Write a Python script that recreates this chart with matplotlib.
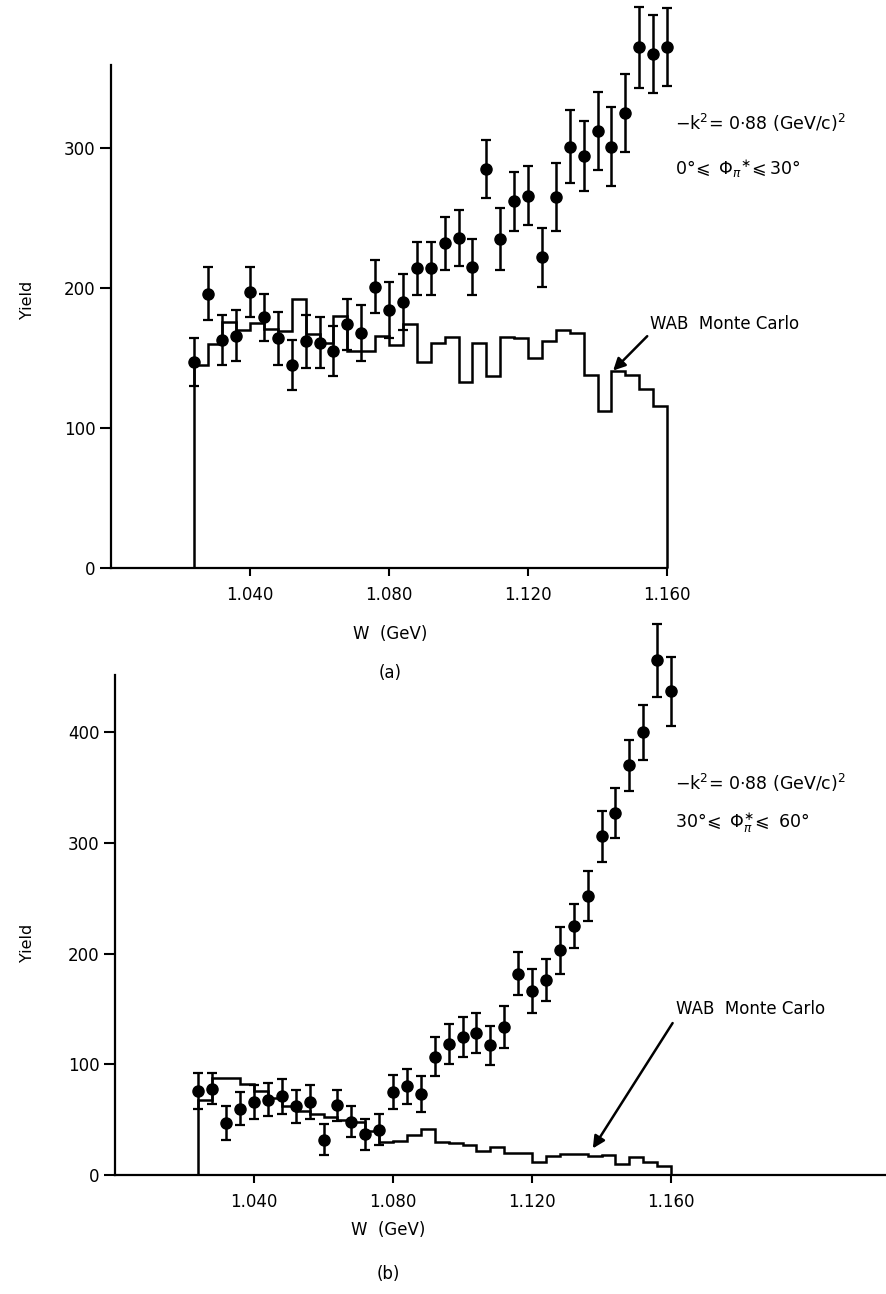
import matplotlib
matplotlib.use("Agg")
import matplotlib.pyplot as plt

plt.rcParams['font.family'] = ['DejaVu Sans']
plt.rcParams['mathtext.fontset'] = 'dejavusans'

# W bin edges (GeV); data points sit on the same grid
W = [1.024, 1.028, 1.032, 1.036, 1.040, 1.044, 1.048, 1.052, 1.056, 1.060,
     1.064, 1.068, 1.072, 1.076, 1.080, 1.084, 1.088, 1.092, 1.096, 1.100,
     1.104, 1.108, 1.112, 1.116, 1.120, 1.124, 1.128, 1.132, 1.136, 1.140,
     1.144, 1.148, 1.152, 1.156, 1.160]

# (a) 0 <= phi <= 30 deg
yield_a = [147, 196, 163, 166, 197, 179, 164, 145, 162, 161,
           155, 174, 168, 201, 184, 190, 214, 214, 232, 236,
           215, 285, 235, 262, 266, 222, 265, 301, 294, 312,
           301, 325, 372, 367, 372]
err_a = [17, 19, 18, 18, 18, 17, 19, 18, 19, 18,
         18, 18, 20, 19, 20, 20, 19, 19, 19, 20,
         20, 21, 22, 21, 21, 21, 24, 26, 25, 28,
         28, 28, 29, 28, 28]
mc_a = [145, 160, 176, 170, 175, 171, 169, 192, 167, 161,
        180, 155, 155, 166, 159, 174, 147, 161, 165, 133,
        161, 137, 165, 164, 150, 162, 170, 168, 138, 112,
        141, 138, 128, 116]

# (b) 30 <= phi <= 60 deg
yield_b = [76, 78, 47, 60, 66, 68, 71, 62, 66, 32,
           63, 48, 37, 41, 75, 80, 73, 107, 118, 125,
           128, 117, 134, 182, 166, 176, 203, 225, 252, 306,
           327, 370, 400, 465, 437]
err_b = [16, 14, 15, 15, 15, 15, 16, 15, 15, 14,
         14, 14, 14, 14, 15, 16, 16, 18, 18, 18,
         18, 18, 19, 19, 20, 19, 21, 20, 23, 23,
         23, 23, 25, 33, 31]
mc_b = [68, 88, 88, 82, 76, 70, 62, 58, 55, 52,
        50, 48, 40, 30, 31, 36, 42, 30, 29, 27,
        22, 25, 20, 20, 12, 17, 19, 19, 17, 18,
        10, 16, 12, 8]

xticks = [1.040, 1.080, 1.120, 1.160]
xticklabels = ['1.040', '1.080', '1.120', '1.160']

FW, FH = 886, 1294
fig = plt.figure(figsize=(FW / 100, FH / 100), dpi=100)

ax1 = fig.add_axes([111 / FW, 1 - 568 / FH, (FW - 111) / FW, 568 / FH])
ax2 = fig.add_axes([115 / FW, 1 - 1175 / FH, (FW - 115) / FW, 545 / FH])

panels = [
    (ax1, yield_a, err_a, mc_a, 405.7, 359, 1.160, [0, 100, 200, 300]),
    (ax2, yield_b, err_b, mc_b, 492.3, 452, 1.2219, [0, 100, 200, 300, 400]),
]

for ax, y, e, mc, ytop, spine_top, xend, yticks in panels:
    xmax = 1.0 + (FW - ax.get_position().x0 * FW) / 3475
    ax.set_xlim(1.0, xmax)
    ax.set_ylim(0, ytop)
    ax.stairs(mc, W, baseline=0, color='black', lw=1.8, clip_on=False)
    ax.errorbar(W, y, yerr=e, fmt='o', color='black', ms=8, capsize=3.5,
                elinewidth=1.8, capthick=1.6, clip_on=False, zorder=3)
    for s in ['top', 'right']:
        ax.spines[s].set_visible(False)
    ax.spines['left'].set_bounds(0, spine_top)
    ax.spines['bottom'].set_bounds(1.0, min(xend, xmax))
    ax.spines['left'].set_linewidth(1.6)
    ax.spines['bottom'].set_linewidth(1.6)
    ax.set_yticks(yticks)
    ax.set_xticks(xticks)
    ax.set_xticklabels(xticklabels)
    ax.tick_params(axis='y', direction='out', length=8, width=1.5, pad=3, labelsize=12)
    ax.tick_params(axis='x', direction='out', length=6, width=1.5, pad=7, labelsize=12)
    ax.patch.set_alpha(0)

# annotations, panel (a)
ax1.annotate('WAB  Monte Carlo', xy=(1.1445, 141), xytext=(1.1551, 174),
             fontsize=12, ha='left', va='center',
             arrowprops=dict(arrowstyle='-|>', color='black', lw=1.8,
                             mutation_scale=18, relpos=(0.0, 0.0), shrinkA=0, shrinkB=0))
ax1.text(1.1623, 318, r'$-$k$^2$= 0$\cdot$88 (GeV/c)$^2$', fontsize=12.5, va='center', ha='left')
ax1.text(1.1623, 285, r'0$\degree\!\leqslant$ $\Phi_{\pi}{}^{\ast}\!\leqslant$30$\degree$',
         fontsize=12.5, va='center', ha='left')

# annotations, panel (b)
ax2.annotate('WAB  Monte Carlo', xy=(1.1375, 24), xytext=(1.1614, 150),
             fontsize=12, ha='left', va='center',
             arrowprops=dict(arrowstyle='-|>', color='black', lw=1.8,
                             mutation_scale=18, relpos=(0.0, 0.0), shrinkA=2, shrinkB=0))
ax2.text(1.1612, 354, r'$-$k$^2$= 0$\cdot$88 (GeV/c)$^2$', fontsize=12.5, va='center', ha='left')
ax2.text(1.1612, 318, r'30$\degree\!\leqslant$ $\Phi_{\pi}^{\ast}\!\leqslant$ 60$\degree$',
         fontsize=12.5, va='center', ha='left')

# axis titles and panel tags
fig.text(28 / FW, 1 - 300 / FH, 'Yield', rotation=90, fontsize=11.5, ha='center', va='center')
fig.text(28 / FW, 1 - 943 / FH, 'Yield', rotation=90, fontsize=11.5, ha='center', va='center')
fig.text(390 / FW, 1 - 634 / FH, 'W  (GeV)', fontsize=12, ha='center', va='center')
fig.text(390 / FW, 1 - 673 / FH, '(a)', fontsize=12, ha='center', va='center')
fig.text(388 / FW, 1 - 1230 / FH, 'W  (GeV)', fontsize=12, ha='center', va='center')
fig.text(388 / FW, 1 - 1274 / FH, '(b)', fontsize=12, ha='center', va='center')

fig.savefig('out.png', dpi=100)
